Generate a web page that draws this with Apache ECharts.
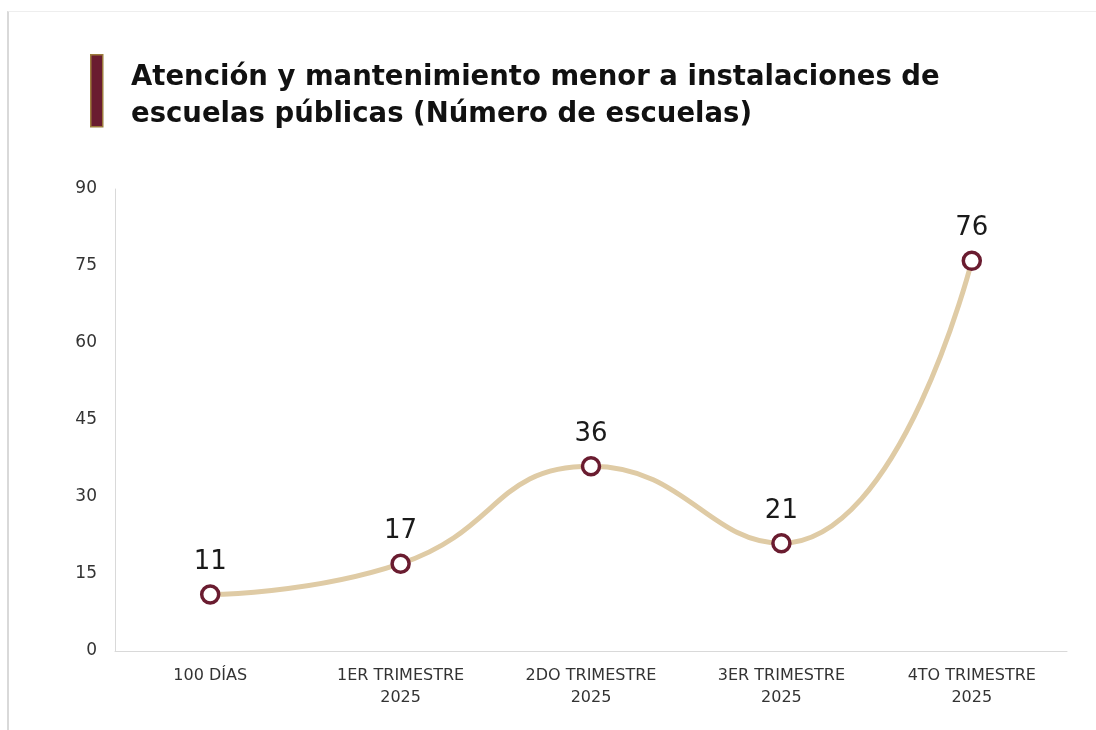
<!DOCTYPE html>
<html lang="es">
<head>
  <meta charset="UTF-8">
  <title>Atención y mantenimiento</title>
  <style>
    body { margin: 0; background: #fff; }
    #frame {
      position: absolute; left: 7px; top: 11px; right: 0; bottom: 0;
      border-left: 2px solid #d9d9d9; border-top: 1px solid #eeeeee;
    }
    #main { position: absolute; left: 0; top: 0; width: 1096px; height: 730px; }
  </style>
</head>
<body>
<div id="frame"></div>
<div id="main"></div>
<script src="https://cdn.jsdelivr.net/npm/echarts@6/dist/echarts.min.js"></script>
<script>
  // categorías y valores
  const categorias = ['100 DÍAS', '1ER TRIMESTRE\n2025', '2DO TRIMESTRE\n2025', '3ER TRIMESTRE\n2025', '4TO TRIMESTRE\n2025'];
  const escuelas = [11, 17, 36, 21, 76];
  const titulo = 'Atención y mantenimiento menor a instalaciones de\nescuelas públicas (Número de escuelas)';

  const fuente = '"DejaVu Sans", "Open Sans", sans-serif';
  let chart = echarts.init(document.getElementById('main'));

  let option = {
    backgroundColor: 'transparent',
    animation: false,
    title: {
      text: titulo,
      left: 126,
      top: 54,
      textStyle: {
        fontFamily: fuente,
        fontWeight: 'bold',
        fontSize: 27.5,
        lineHeight: 37,
        color: '#111'
      }
    },
    graphic: [{
      type: 'rect',
      left: 90,
      top: 54,
      shape: { width: 12, height: 72 },
      style: { fill: '#6a1c30', stroke: '#9c7b3c', lineWidth: 1.5 }
    }],
    grid: { left: 115, right: 29, top: 189, bottom: 79 },
    xAxis: {
      type: 'category',
      data: categorias,
      axisLine: { lineStyle: { color: '#d9d9d9', width: 1 } },
      axisTick: { show: false },
      axisLabel: {
        color: '#333',
        fontFamily: fuente,
        fontSize: 16,
        lineHeight: 22,
        margin: 14
      }
    },
    yAxis: {
      type: 'value',
      min: 0,
      max: 90,
      interval: 15,
      axisLine: { show: true, lineStyle: { color: '#d9d9d9' } },
      axisTick: { show: false },
      splitLine: { show: false },
      axisLabel: {
        color: '#333',
        fontFamily: fuente,
        fontSize: 17,
        margin: 18
      }
    },
    series: [{
      type: 'line',
      data: escuelas,
      smooth: 0.5,
      symbol: 'circle',
      symbolSize: 17,
      lineStyle: { color: '#dfcba5', width: 5 },
      itemStyle: { color: '#ffffff', borderColor: '#6a1c30', borderWidth: 3.5 },
      label: {
        show: true,
        position: 'top',
        distance: 9,
        color: '#1a1a1a',
        fontFamily: fuente,
        fontSize: 26
      }
    }]
  };

  chart.setOption(option);
</script>
</body>
</html>
